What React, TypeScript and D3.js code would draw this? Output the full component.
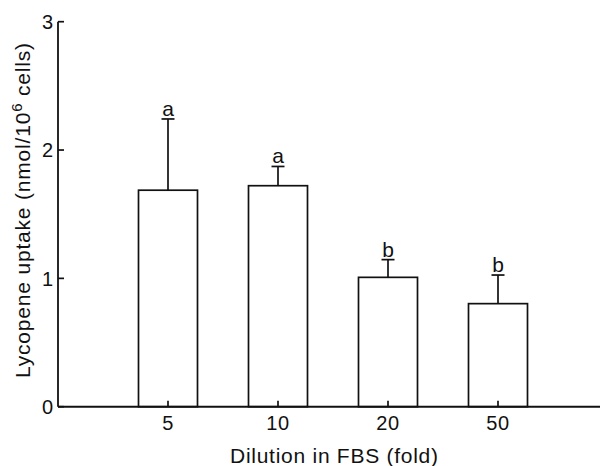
import React from 'react';
import * as d3 from 'd3';

const categories = ['5', '10', '20', '50'];
const means = [1.687, 1.722, 1.008, 0.803];
const errors = [0.555, 0.15, 0.138, 0.223];
const letters = ['a', 'a', 'b', 'b'];
const yTicks = [0, 1, 2, 3];

const W = 600;
const H = 466;
const FONT = '"Liberation Sans", Arial, Helvetica, sans-serif';
const INK = '#111';

const App: React.FC = () => {
  const x = d3.scalePoint<string>().domain(categories).range([58, 608]).padding(1);
  const y = d3.scaleLinear().domain([0, 3]).range([406.7, 21.7]);
  const barW = 59;
  const capHalf = 6.5;
  const x0 = 58;

  return (
    <svg
      width={W}
      height={H}
      viewBox={`0 0 ${W} ${H}`}
      style={{ position: 'absolute', left: 0, top: 0, background: '#fff' }}
      fontFamily={FONT}
    >
      {/* bars */}
      {categories.map((c, i) => (
        <rect
          key={c}
          x={x(c)! - barW / 2}
          y={y(means[i])}
          width={barW}
          height={y(0) - y(means[i])}
          fill="#fff"
          stroke={INK}
          strokeWidth={1.7}
        />
      ))}

      {/* error bars and letters */}
      {categories.map((c, i) => {
        const cx = x(c)!;
        const top = y(means[i] + errors[i]);
        return (
          <g key={`e${c}`}>
            <line x1={cx} x2={cx} y1={y(means[i])} y2={top} stroke={INK} strokeWidth={1.7} />
            <line x1={cx - capHalf} x2={cx + capHalf} y1={top} y2={top} stroke={INK} strokeWidth={1.7} />
            <text x={cx} y={top - 3} textAnchor="middle" fontSize={21} fill={INK}>
              {letters[i]}
            </text>
          </g>
        );
      })}

      {/* y axis */}
      <line x1={x0} x2={x0} y1={y(3)} y2={y(0)} stroke={INK} strokeWidth={1.8} />
      {yTicks.map(t => (
        <g key={`yt${t}`}>
          <line x1={x0} x2={x0 + 6} y1={y(t)} y2={y(t)} stroke={INK} strokeWidth={1.7} />
          <text x={x0 - 5} y={y(t)} dy="0.36em" textAnchor="end" fontSize={20} fill={INK}>
            {t}
          </text>
        </g>
      ))}

      {/* x axis */}
      <line x1={x0} x2={W} y1={y(0)} y2={y(0)} stroke={INK} strokeWidth={2} />
      {categories.map(c => (
        <g key={`xt${c}`}>
          <line x1={x(c)} x2={x(c)} y1={y(0)} y2={y(0) - 6} stroke={INK} strokeWidth={1.7} />
          <text x={x(c)} y={430} textAnchor="middle" fontSize={20} letterSpacing={0.6} fill={INK}>
            {c}
          </text>
        </g>
      ))}

      {/* axis titles */}
      <text
        x={334}
        y={463}
        textAnchor="middle"
        fontSize={21}
        textLength={208}
        lengthAdjust="spacing"
        fill={INK}
      >
        Dilution in FBS (fold)
      </text>
      <text
        transform="translate(30,210.5) rotate(-90)"
        textAnchor="middle"
        fontSize={21}
        textLength={335}
        lengthAdjust="spacing"
        fill={INK}
      >
        Lycopene uptake (nmol/10
        <tspan dy={-8} fontSize={15}>6</tspan>
        <tspan dy={8}> cells)</tspan>
      </text>
    </svg>
  );
};

export default App;
